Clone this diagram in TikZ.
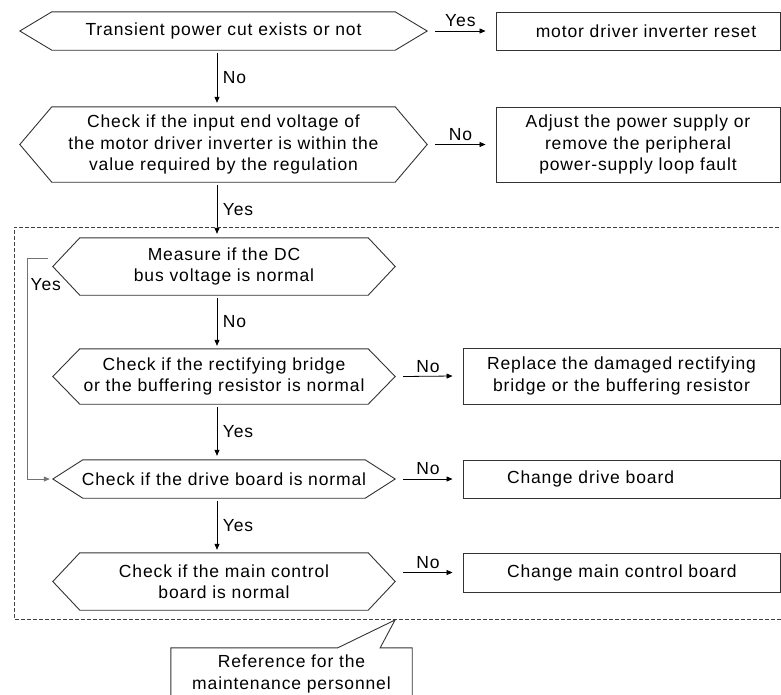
\documentclass[tikz,border=0pt]{standalone}
\usepackage{fontspec}
\setmainfont{Liberation Sans}[LetterSpace=5]
\usepackage{tikz}
\usetikzlibrary{arrows.meta}
\tikzset{
  txt/.style={font=\fontsize{17.5}{21.5}\selectfont},
  dq/.style={txt,align=center,inner sep=0pt},
  hx/.style={draw=black!80,line width=0.9pt},
  bx/.style={txt,draw=black!80,line width=0.9pt,align=center,inner sep=0pt},
  ar/.style={line width=0.8pt,-{Triangle[length=6pt,width=5pt]}},
  lp/.style={ar,draw=black!55},
  lb/.style={txt,inner sep=1.5pt},
  fr/.style={dashed,dash pattern=on 4pt off 2pt,black!75,line width=0.8pt}
}

\begin{document}
\begin{tikzpicture}[x=1pt,y=-1pt]
\useasboundingbox (0,0) rectangle (781,694);
\node[dq,minimum width=407,minimum height=38] (q1) at (223.5,31) {Transient power cut exists or not};
\node[dq,minimum width=407,minimum height=75] (q2) at (223.5,144.5) {Check if the input end voltage of\\the motor driver inverter is within the\\value required by the regulation};
\node[dq,minimum width=342,minimum height=57] (q3) at (224,266.5) {Measure if the DC\\bus voltage is normal};
\node[dq,minimum width=342,minimum height=55] (q4) at (224,376.5) {Check if the rectifying bridge\\or the buffering resistor is normal};
\node[dq,minimum width=342,minimum height=38] (q5) at (224,479) {Check if the drive board is normal};
\node[dq,minimum width=342,minimum height=57] (q6) at (224,581.5) {Check if the main control\\board is normal};
\foreach \n/\d in {q1/32,q2/32,q3/27,q4/27,q5/30,q6/27}
  \draw[hx] (\n.west) -- ([xshift=\d]\n.north west) -- ([xshift=-\d]\n.north east) -- (\n.east) -- ([xshift=-\d]\n.south east) -- ([xshift=\d]\n.south west) -- cycle;
\node[bx,minimum width=284,minimum height=38] (a1) at (638,31) {\hspace*{16pt}motor driver inverter reset};
\node[bx,minimum width=284,minimum height=75] (a2) at (638,144.5) {Adjust the power supply or\\remove the peripheral\\power-supply loop fault};
\node[bx,minimum width=317,minimum height=56] (a3) at (621.5,376) {Replace the damaged rectifying\\bridge or the buffering resistor};
\node[bx,minimum width=317,minimum height=38,text width=317,align=left] (a4) at (621.5,479) {\hspace*{44pt}Change drive board};
\node[bx,minimum width=317,minimum height=39,text width=317,align=left] (a5) at (621.5,572.5) {\hspace*{44pt}Change main control board};
\draw[ar] ([xshift=8]q1.east) -- ([xshift=-10]a1.west) node[lb,midway,above=2pt] {Yes};
\draw[ar] ([xshift=8]q2.east) -- ([xshift=-10]a2.west) node[lb,midway,above=2pt] {No};
\draw[ar] ([xshift=8]q4.east) -- ([xshift=-10]a3.west) node[lb,midway,above=2pt] {No};
\draw[ar] ([xshift=8]q5.east) -- ([xshift=-10]a4.west) node[lb,midway,above=2pt] {No};
\draw[ar] ([xshift=8]q6.east |- a5.west) -- ([xshift=-10]a5.west) node[lb,midway,above=2pt] {No};
\draw[ar] ([xshift=-6.5,yshift=-3]q1.south) -- ([xshift=-6.5,yshift=4]q2.north) node[lb,midway,right=4pt] {No};
\draw[ar] ([xshift=-6.5,yshift=-3]q2.south) -- ([xshift=-7,yshift=4]q3.north) node[lb,midway,right=4pt] {Yes};
\draw[ar] ([xshift=-7,yshift=-3]q3.south) -- ([xshift=-7,yshift=3]q4.north) node[lb,midway,right=4pt] {No};
\draw[ar] ([xshift=-7,yshift=-3]q4.south) -- ([xshift=-7,yshift=4]q5.north) node[lb,midway,right=4pt] {Yes};
\draw[ar] ([xshift=-7,yshift=-3]q5.south) -- ([xshift=-7,yshift=3]q6.north) node[lb,midway,right=4pt] {Yes};
\coordinate (lt) at (27,258);
\coordinate (lb) at (27,479);
\draw[lp] ([xshift=-5,yshift=8.5]q3.west) -- (lt) -- (lb) -- ([xshift=-3]q5.west);
\node[lb,anchor=west] (ly) at (29,285) {Yes};
\draw[fr] (785,227) -- (14,227) -- (14,619) -- (785,619);
\node[dq,minimum width=241,minimum height=52] (cl) at (291.5,674) {Reference for the\\maintenance personnel};
\coordinate (tp) at (395,620);
\draw[hx] ([yshift=-10]cl.south west) -- (cl.north west) -- ([xshift=167]cl.north west) -- (tp) -- ([xshift=-32]cl.north east) -- (cl.north east) -- ([yshift=-10]cl.south east);
\end{tikzpicture}
\end{document}
